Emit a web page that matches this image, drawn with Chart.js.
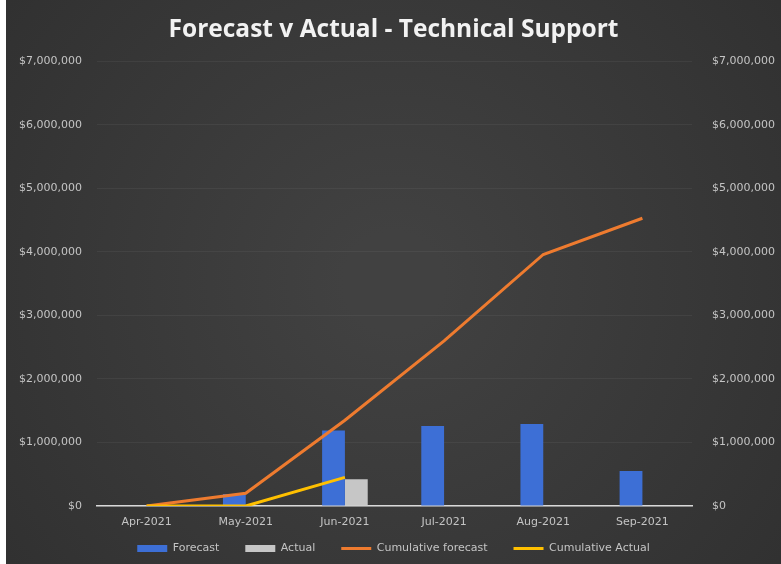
<!DOCTYPE html>
<html lang="en">
<head>
    <meta charset="UTF-8">
    <title>Forecast v Actual - Technical Support</title>
    <script src="https://cdn.jsdelivr.net/npm/chart.js"></script>
    <style>
        body {
            margin: 0;
            padding: 0;
            background-color: #ffffff;
        }
        .chart-container {
            position: absolute;
            left: 6px;
            top: 0;
            width: 775px;
            height: 564px;
        }
    </style>
</head>
<body>
    <div class="chart-container">
        <canvas id="supportChart"></canvas>
    </div>

    <script>
        const months = ['Apr-2021', 'May-2021', 'Jun-2021', 'Jul-2021', 'Aug-2021', 'Sep-2021'];
        const forecast = [0, 190000, 1190000, 1260000, 1290000, 550000];
        const actual = [0, 0, 420000, null, null, null];
        const cumulativeForecast = [0, 200000, 1350000, 2600000, 3960000, 4530000];
        const cumulativeActual = [0, 0, 450000, null, null, null];
        const yTicks = [0, 1000000, 2000000, 3000000, 4000000, 5000000, 6000000, 7000000];

        // dark background, a bit lighter in the middle
        const background = {
            id: 'background',
            beforeDraw(chart) {
                const ctx = chart.ctx;
                const w = chart.width, h = chart.height;
                const g = ctx.createRadialGradient(w / 2, h / 2, 50, w / 2, h / 2, w * 0.65);
                g.addColorStop(0, '#414141');
                g.addColorStop(1, '#303030');
                ctx.save();
                ctx.fillStyle = g;
                ctx.fillRect(0, 0, w, h);
                ctx.restore();
            }
        };

        function money(v) {
            return '$' + Number(v).toLocaleString('en-US');
        }

        const tickFont = { family: 'DejaVu Sans', size: 11 };

        new Chart(document.getElementById('supportChart'), {
            type: 'bar',
            data: {
                labels: months,
                datasets: [
                    {
                        label: 'Forecast',
                        data: forecast,
                        backgroundColor: '#3d6fd6',
                        pointStyle: 'rect',
                        order: 2
                    },
                    {
                        label: 'Actual',
                        data: actual,
                        backgroundColor: '#c6c6c6',
                        pointStyle: 'rect',
                        order: 2
                    },
                    {
                        type: 'line',
                        label: 'Cumulative forecast',
                        data: cumulativeForecast,
                        borderColor: '#ee7b2f',
                        backgroundColor: '#ee7b2f',
                        borderWidth: 3,
                        pointRadius: 0,
                        pointStyle: 'line',
                        tension: 0,
                        order: 1
                    },
                    {
                        type: 'line',
                        label: 'Cumulative Actual',
                        data: cumulativeActual,
                        borderColor: '#ffc000',
                        backgroundColor: '#ffc000',
                        borderWidth: 3,
                        pointRadius: 0,
                        pointStyle: 'line',
                        tension: 0,
                        order: 0
                    }
                ]
            },
            options: {
                responsive: true,
                maintainAspectRatio: false,
                animation: false,
                layout: {
                    padding: 0
                },
                datasets: {
                    bar: {
                        categoryPercentage: 0.46,
                        barPercentage: 1
                    }
                },
                scales: {
                    x: {
                        grid: { display: false, drawTicks: false },
                        border: { display: true, color: '#d9d9d9', width: 1.5 },
                        ticks: { color: '#c4c4c4', font: tickFont, padding: 10 },
                        afterFit(axis) {
                            // keep the axis thin so the plot reaches down like the original,
                            // and let the month labels spill into the legend's top padding
                            axis.height = 11;
                            axis._computeLabelArea = () => undefined;
                        }
                    },
                    y: {
                        position: 'left',
                        min: 0,
                        max: 7000000,
                        afterBuildTicks(axis) {
                            axis.ticks = yTicks.map(v => ({ value: v }));
                        },
                        afterFit(axis) { axis.width = 91; },
                        grid: { color: 'rgba(255,255,255,0.05)', drawTicks: false },
                        border: { display: false },
                        ticks: {
                            color: '#c4c4c4',
                            font: tickFont,
                            padding: 15,
                            callback: v => money(v)
                        }
                    },
                    y2: {
                        position: 'right',
                        min: 0,
                        max: 7000000,
                        afterBuildTicks(axis) {
                            axis.ticks = yTicks.map(v => ({ value: v }));
                        },
                        afterFit(axis) { axis.width = 89; },
                        grid: { display: false, drawTicks: false },
                        border: { display: false },
                        ticks: {
                            color: '#c4c4c4',
                            font: tickFont,
                            padding: 20,
                            callback: v => money(v)
                        }
                    }
                },
                plugins: {
                    title: {
                        display: true,
                        text: 'Forecast v Actual - Technical Support',
                        color: '#f2f2f2',
                        font: { family: 'Open Sans', size: 24.5, weight: 'bold' },
                        padding: { top: 15, bottom: 17 }
                    },
                    legend: {
                        position: 'bottom',
                        labels: {
                            color: '#c4c4c4',
                            font: tickFont,
                            usePointStyle: true,
                            pointStyleWidth: 30,
                            boxHeight: 7,
                            padding: 26,
                            sort: (a, b) => a.datasetIndex - b.datasetIndex
                        }
                    },
                    tooltip: { enabled: false }
                }
            },
            plugins: [background]
        });
    </script>
</body>
</html>
